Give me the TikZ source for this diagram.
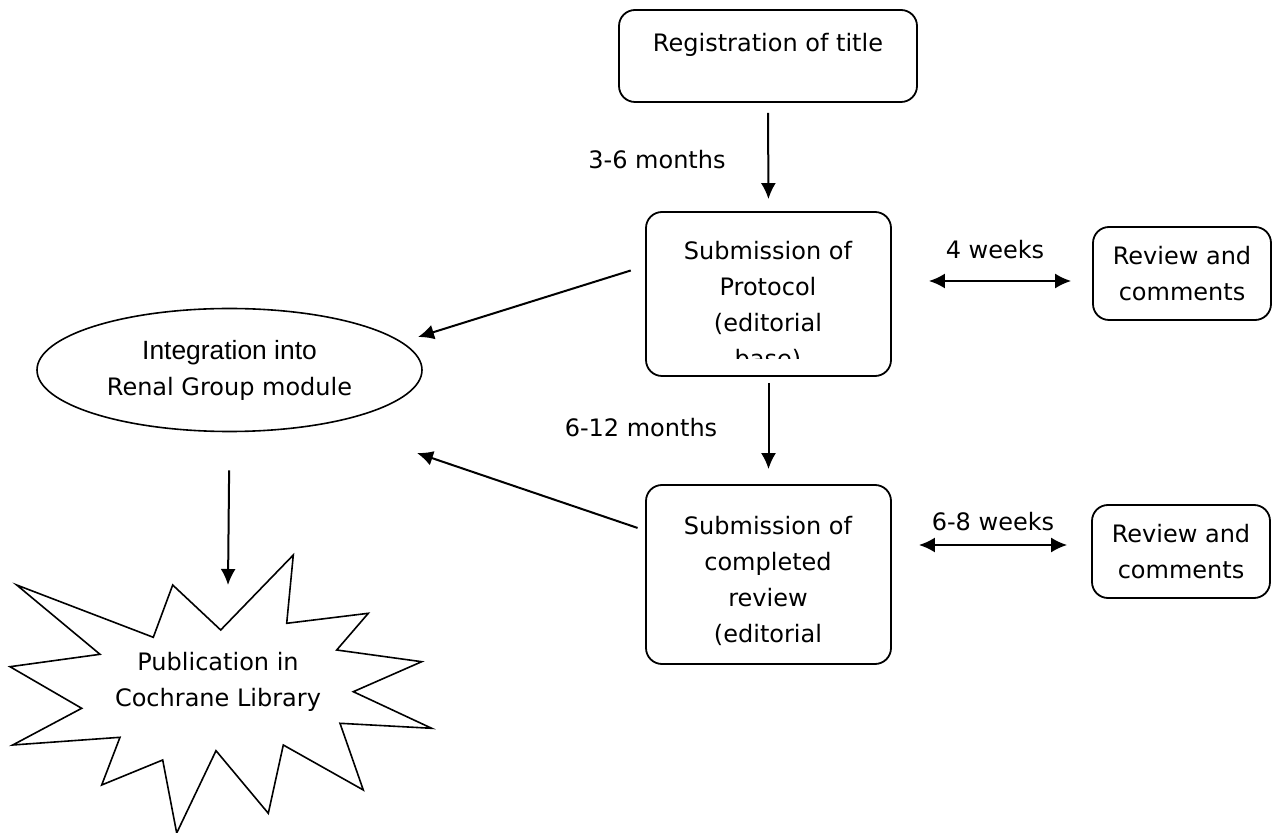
\documentclass[tikz,border=0pt]{standalone}
\usepackage{fontspec}
\setmainfont{DejaVu Sans}
\newfontfamily\arialfont{Liberation Sans}
\usetikzlibrary{arrows.meta,shapes.geometric}

\begin{document}
\begin{tikzpicture}[x=0.5pt,y=-0.5pt,
        font=\fontsize{12}{18}\selectfont,
        box/.style={draw, rounded corners=8pt, line width=0.9pt},
        boxtext/.style={align=center, inner sep=0pt},
        flow/.style={-{Latex[length=8pt,width=7.5pt]}, line width=1pt},
        both/.style={{Latex[length=8pt,width=7.5pt]}-{Latex[length=8pt,width=7.5pt]}, line width=1pt}]
        \useasboundingbox (0,0) rectangle (1279,833);
        % Main boxes
        \node[box, minimum width=149pt, minimum height=46pt] (reg) at (768,56) {};
        \node[boxtext] (reg-txt) at (768,45) {Registration of title};
        \node[box, minimum width=122.5pt, minimum height=82pt] (proto) at (768.5,294) {};
        \begin{scope}
            \clip (646,212) rectangle (891,359);
            \node[boxtext, anchor=north] (proto-txt) at (768,241) {Submission of\\Protocol\\(editorial\\base)};
        \end{scope}
        \node[box, minimum width=122.5pt, minimum height=89.5pt] (done) at (768.5,574.5) {};
        \node[boxtext, anchor=north] (done-txt) at (768,516) {Submission of\\completed\\review\\(editorial};
        % Review boxes
        \node[box, minimum width=89pt, minimum height=46.5pt, align=center] (revA) at (1182,273.5) {Review and\\comments};
        \node[box, minimum width=89pt, minimum height=46.5pt, align=center] (revB) at (1181,551.5) {Review and\\comments};
        % Ellipse and star
        \node[draw, ellipse, line width=0.8pt, minimum width=192.5pt, minimum height=61.5pt, inner sep=0pt, align=center] (integ) at (229.5,370) {{\arialfont\fontsize{13.2}{18}\selectfont Integration into}\\Renal Group module};
        \draw[line width=0.8pt, line join=miter] (16.7,585) -- (153.3,637.3) -- (172.7,585) -- (220.7,630) -- (293.3,555) -- (286.7,623.3)
            -- (368.3,613.3) -- (336.7,650) -- (421.7,661.7) -- (353.3,691.7) -- (431.7,728.3) -- (340,723.3)
            -- (363.3,790) -- (283.3,745) -- (268.3,813.3) -- (216,750.7) -- (176.7,833) -- (162.7,760)
            -- (101.7,785) -- (120,737.3) -- (12.7,745) -- (81.7,708.3) -- (10,666.7) -- (100,654.3) -- cycle;
        \node[boxtext] (pub) at (218,682) {Publication in\\Cochrane Library};
        \coordinate (pub-top) at (228,585);
        \coordinate (integ-a) at (418,337);
        \coordinate (integ-b) at (417,453);
        % Connectors
        \draw[flow, shorten <=5pt, shorten >=6pt] (reg.south) -- (proto.north);
        \draw[flow, shorten <=3pt, shorten >=7.5pt] (proto.south) -- (done.north);
        \draw[both, shorten <=18.5pt, shorten >=10.5pt] ([yshift=6.5pt]proto.east) -- ([yshift=-3.75pt]revA.west);
        \draw[both, shorten <=13.5pt, shorten >=12pt] ([yshift=14.75pt]done.east) -- ([yshift=3.25pt]revB.west);
        \draw[flow, shorten <=7.5pt] ([yshift=14pt]proto.west) -- (integ-a);
        \draw[flow, shorten <=4pt] ([yshift=22pt]done.west) -- (integ-b);
        \draw[flow, shorten <=19pt] (integ.south) -- (pub-top);
        % Time labels
        \node (t36) at (657,160) {3-6 months};
        \node (t612) at (641,428) {6-12 months};
        \node (t4w) at (995,250) {4 weeks};
        \node (t68w) at (993,522) {6-8 weeks};
\end{tikzpicture}
\end{document}
